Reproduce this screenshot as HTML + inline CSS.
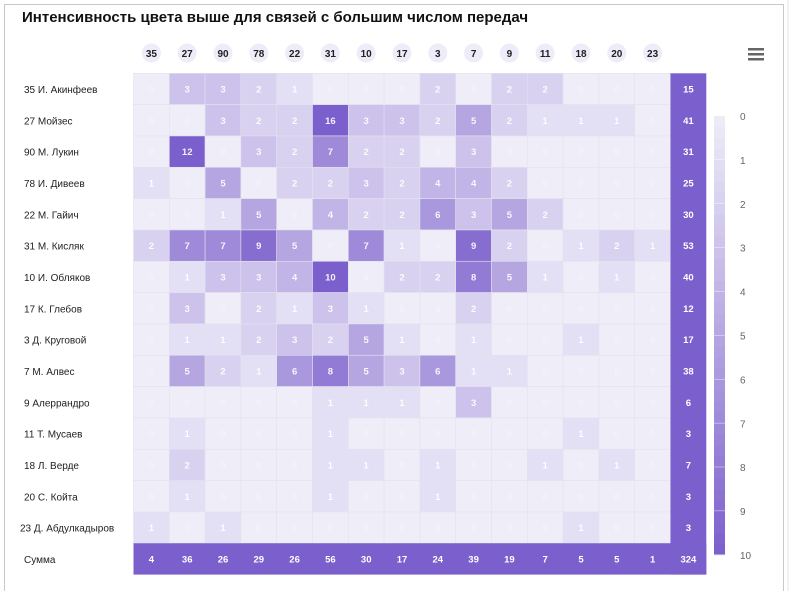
<!DOCTYPE html>
<html><head><meta charset="utf-8">
<style>
body{margin:0;background:#fff;font-family:"Liberation Sans","Noto Sans CJK SC",sans-serif;}
svg text{font-family:"Liberation Sans","Noto Sans CJK SC",sans-serif;}
</style></head>
<body>
<svg id="chart" width="791" height="591">
<rect x="4.5" y="4.5" width="779" height="600" fill="#fff" stroke="#c8c8c8"/>
<line x1="788" y1="0" x2="788" y2="591" stroke="#e6e6e6"/>
<text x="22" y="22" font-size="15" font-weight="bold" fill="#111">Интенсивность цвета выше для связей с большим числом передач</text>
<g>
<rect x="748" y="48" width="16" height="2.5" fill="#666"/><rect x="748" y="53" width="16" height="2.5" fill="#666"/><rect x="748" y="58" width="16" height="2.5" fill="#666"/>
</g>
</svg>
<script>
const cols=["35","27","90","78","22","31","10","17","3","7","9","11","18","20","23"];
const rowLabels=["35 И. Акинфеев","27 Мойзес","90 М. Лукин","78 И. Дивеев","22 М. Гайич","31 М. Кисляк","10 И. Обляков","17 К. Глебов","3 Д. Круговой","7 М. Алвес","9 Алеррандро","11 Т. Мусаев","18 Л. Верде","20 С. Койта","23 Д. Абдулкадыров"];
const values=[
[0,3,3,2,1,0,0,0,2,0,2,2,0,0,0],
[0,0,3,2,2,16,3,3,2,5,2,1,1,1,0],
[0,12,0,3,2,7,2,2,0,3,0,0,0,0,0],
[1,0,5,0,2,2,3,2,4,4,2,0,0,0,0],
[0,0,1,5,0,4,2,2,6,3,5,2,0,0,0],
[2,7,7,9,5,0,7,1,0,9,2,0,1,2,1],
[0,1,3,3,4,10,0,2,2,8,5,1,0,1,0],
[0,3,0,2,1,3,1,0,0,2,0,0,0,0,0],
[0,1,1,2,3,2,5,1,0,1,0,0,1,0,0],
[0,5,2,1,6,8,5,3,6,1,1,0,0,0,0],
[0,0,0,0,0,1,1,1,0,3,0,0,0,0,0],
[0,1,0,0,0,1,0,0,0,0,0,0,1,0,0],
[0,2,0,0,0,1,1,0,1,0,0,1,0,1,0],
[0,1,0,0,0,1,0,0,1,0,0,0,0,0,0],
[1,0,1,0,0,0,0,0,0,0,0,0,1,0,0]];
const rowSums=[15,41,31,25,30,53,40,12,17,38,6,3,7,3,3];
const colSums=[4,36,26,29,26,56,30,17,24,39,19,7,5,5,1];
const total=324;
const legendTicks=[0,1,2,3,4,5,6,7,8,9,10];

const NS="http://www.w3.org/2000/svg";
const svg=document.getElementById('chart');
const X0=133.5,CW=35.8,Y0=73.3,RH=31.33,VMAX=10;
const xPos=i=>X0+i*CW, yPos=j=>Y0+j*RH;
const lo=[239,237,248],hi=[123,95,204];
function color(v){const t=Math.min(v,VMAX)/VMAX;return 'rgb('+lo.map((c,k)=>Math.round(c+(hi[k]-c)*t)).join(',')+')';}
function mk(tag,attrs,txt){const e=document.createElementNS(NS,tag);for(const k in attrs)e.setAttribute(k,attrs[k]);if(txt!==undefined)e.textContent=txt;svg.appendChild(e);return e;}

cols.forEach((c,i)=>{
 const cx=xPos(i)+CW/2;
 const b=mk('circle',{cx:cx,cy:53,r:9.5,fill:'#eeecf8'});
 
 
 const t=mk('text',{x:cx,y:57,'font-size':10,'font-weight':'bold','text-anchor':'middle',fill:'#222'},c);
 
 
});
rowLabels.forEach((l,j)=>{
 const t=mk('text',{x:l.length>16?20:24,y:yPos(j)+RH/2+4,'font-size':10,fill:'#222'},l);
 
 
});
const sl=mk('text',{x:24,y:yPos(15)+RH/2+4,'font-size':10,fill:'#222'},'Сумма');



values.forEach((row,j)=>row.forEach((v,i)=>{
 const r=mk('rect',{x:xPos(i),y:yPos(j),width:CW,height:RH,fill:color(v),stroke:'#e4e2ee','stroke-width':0.6});
 
 
 const t=mk('text',{x:xPos(i)+CW/2,y:yPos(j)+RH/2+3.5,'font-size':9.5,'font-weight':'bold','text-anchor':'middle',fill:'#fff','fill-opacity':v===0?0.3:0.9},String(v));
 
 
}));
const sumColor='#7b5fcc';
const sc=mk('rect',{x:xPos(15),y:yPos(0),width:CW,height:RH*16,fill:sumColor});


const sr=mk('rect',{x:xPos(0),y:yPos(15),width:CW*16,height:RH,fill:sumColor});


rowSums.forEach((v,j)=>{
 const t=mk('text',{x:xPos(15)+CW/2,y:yPos(j)+RH/2+3.5,'font-size':9.5,'font-weight':'bold','text-anchor':'middle',fill:'#fff'},String(v));
 
 
});
colSums.concat([total]).forEach((v,i)=>{
 const t=mk('text',{x:xPos(i)+CW/2,y:yPos(15)+RH/2+3.5,'font-size':9.5,'font-weight':'bold','text-anchor':'middle',fill:'#fff'},String(v));
 
 
});

const LY0=116,LY1=555,LX=714,LW=11;
const ly=v=>LY0+(LY1-LY0)*v/VMAX;
for(let k=0;k<legendTicks.length-1;k++){
 const a=legendTicks[k],b=legendTicks[k+1];
 for(let s=0;s<4;s++){
  const v0=a+(b-a)*s/4,v1=a+(b-a)*(s+1)/4;
  const r=mk('rect',{x:LX,y:ly(v0),width:LW,height:ly(v1)-ly(v0)+0.3,fill:color((v0+v1)/2)});
  
  
 }
 const d=mk('line',{x1:LX,x2:LX+LW,y1:ly(b),y2:ly(b),stroke:'#fff','stroke-width':0.8});
 
 
}
legendTicks.forEach(v=>{
 const t=mk('text',{x:740,y:ly(v)+4,'font-size':10,fill:'#666'},String(v));
 
 
});
</script>
</body></html>
